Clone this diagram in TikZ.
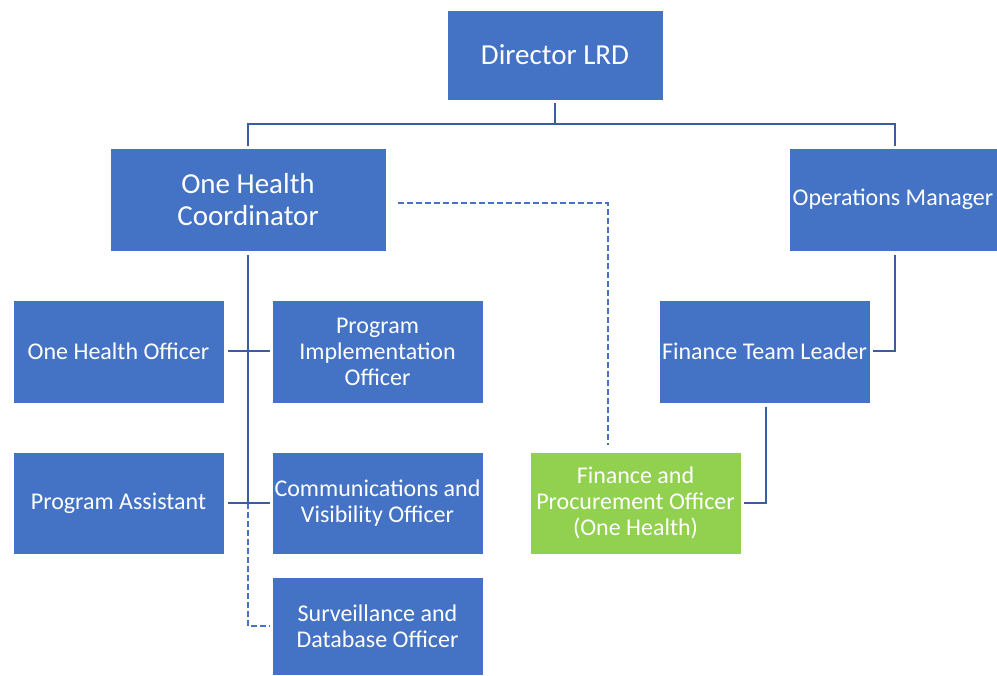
\documentclass[tikz,border=0pt]{standalone}
\usepackage{fontspec}
\setmainfont{Carlito}
\definecolor{boxblue}{HTML}{4472C4}
\definecolor{linedark}{HTML}{3A5DA0}
\definecolor{boxgreen}{HTML}{92D050}
\begin{document}
\begin{tikzpicture}[x=1pt,y=-1pt,
  box/.style={fill=boxblue,draw=white,line width=0.6pt,text=white,align=center,inner sep=0pt,font=\fontsize{24}{26}\selectfont},
  bigbox/.style={box,font=\fontsize{29}{32}\selectfont},
  conn/.style={draw=linedark,line width=2pt},
  dconn/.style={draw=boxblue,line width=2pt,dash pattern=on 6pt off 3pt}]
\fill[white] (0,0) rectangle (997,676);
\useasboundingbox (0,0) rectangle (997,676);
\node[bigbox,minimum width=216,minimum height=90] (dir) at (555,55) {Director LRD};
\node[bigbox,minimum width=276,minimum height=103] (coord) at (248,199.5) {One Health\\Coordinator};
\node[box,minimum width=208,minimum height=103] (ops) at (893,199.5) {Operations Manager};
\node[box,minimum width=211,minimum height=103] (ohof) at (118.5,351.5) {One Health Officer};
\node[box,minimum width=211,minimum height=103] (pio) at (377.5,351.5) {Program\\Implementation\\Officer};
\node[box,minimum width=211,minimum height=103] (ftl) at (764.5,351.5) {Finance Team Leader};
\node[box,minimum width=211,minimum height=102] (pa) at (118.5,503) {Program Assistant};
\node[box,minimum width=211,minimum height=102] (cvo) at (377.5,503) {Communications and\\Visibility Officer};
\node[box,fill=boxgreen,minimum width=211,minimum height=102] (fpo) at (635.5,503) {Finance and\\Procurement Officer\\(One Health)};
\node[box,minimum width=211,minimum height=98] (sdo) at (377.5,626) {Surveillance and\\Database Officer};
% director bus
\draw[conn] ([yshift=-3pt]dir.south) -- ([yshift=-24pt]dir.south);
\draw[conn] ([yshift=2pt]coord.north) |- ([yshift=-24pt]dir.south) -| ([xshift=2pt,yshift=2pt]ops.north);
% coordinator trunk
\draw[conn] ([yshift=-4pt]coord.south) -- (coord.south |- pa.east) coordinate (tj);
\draw[dconn] (tj) |- ([xshift=-2pt]sdo.west);
\draw[conn] ([xshift=4pt]ohof.east) -- ([xshift=-2pt]pio.west);
\draw[conn] ([xshift=4pt]pa.east) -- ([xshift=-2pt]cvo.west);
% dashed to finance officer
\draw[dconn] ([xshift=12pt,yshift=-3.5pt]coord.east) -| ([xshift=-27.5pt,yshift=7pt]fpo.north);
% operations to finance team leader
\draw[conn] ([xshift=2pt,yshift=-4pt]ops.south) |- ([xshift=3pt]ftl.east);
\draw[conn] ([xshift=1.5pt,yshift=-4pt]ftl.south) |- ([xshift=3pt]fpo.east);
\end{tikzpicture}
\end{document}
